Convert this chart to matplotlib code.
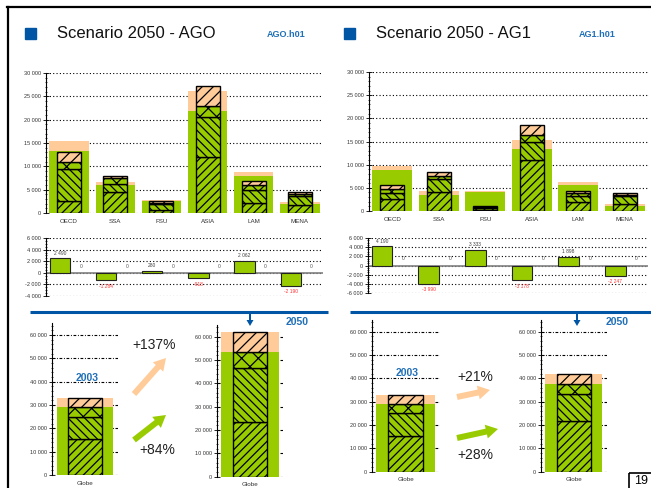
import matplotlib
matplotlib.use("Agg")
import matplotlib.pyplot as plt
import numpy as np
from matplotlib.patches import FancyArrow, Rectangle
from matplotlib.ticker import MultipleLocator, FuncFormatter

plt.rcParams["font.family"] = ["Liberation Sans", "DejaVu Sans"]
plt.rcParams["hatch.linewidth"] = 0.9

GREEN = "#99CC00"
PEACH = "#FFCC99"
BLUE = "#0055A5"
TXTBLUE = "#1F6FB8"
W, H = 651, 488

regions = ["OECD", "SSA", "FSU", "ASIA", "LAM", "MENA"]

# scenario AGO 2050 - wide bars (green part and total)
ago_green = [13300, 6000, 2550, 21900, 8000, 2000]
ago_total = [15500, 6650, 2850, 26200, 8800, 2400]
# narrow stacked bars, four layers
ago_seg1 = [2500, 4400, 600, 12100, 2100, 1800]
ago_seg2 = [6900, 1800, 1300, 8500, 2800, 1800]
ago_seg3 = [1500, 1300, 300, 2300, 1000, 550]
ago_seg4 = [2100, 500, 400, 4300, 900, 450]
ago_diff = [2490, -1284, 280, -918, 2062, -2190]

# scenario AG1 2050
ag1_green = [8900, 3500, 4150, 13400, 5600, 1150]
ag1_total = [9800, 4300, 4250, 15300, 6300, 1600]
ag1_seg1 = [2650, 4100, 300, 10900, 2000, 1450]
ag1_seg2 = [1150, 2900, 400, 3900, 1200, 1700]
ag1_seg3 = [900, 500, 150, 1700, 650, 300]
ag1_seg4 = [900, 850, 150, 2000, 500, 400]
ag1_diff = [4190, -3990, 3333, -3178, 1898, -2247]

# globe totals
globe2003_green, globe2003_total = 29200, 33000
globe2003_segs = [15300, 9700, 4200, 3800]
ago2050_green, ago2050_total = 53500, 62100
ago2050_segs = [23600, 22900, 7000, 8600]
ag1_2050_green, ag1_2050_total = 37600, 41900
ag1_2050_segs = [21900, 11400, 4300, 4300]

hatches = ["////", "\\\\\\\\", "xx", "///"]
seg_colors = [GREEN, GREEN, GREEN, PEACH]


def px_axes(fig, x0, y_top, x1, y_bot):
    return fig.add_axes([x0 / W, 1 - y_bot / H, (x1 - x0) / W, (y_bot - y_top) / H])


def fmt(v, pos=None):
    s = f"{abs(int(round(v))):,}".replace(",", " ")
    return "-" + s if v < 0 else s


def style_axis(ax, major, minor, ls=(0, (1, 2))):
    for s in ["top", "right", "bottom"]:
        ax.spines[s].set_visible(False)
    ax.spines["left"].set_linewidth(0.8)
    ax.yaxis.set_major_locator(MultipleLocator(major))
    ax.yaxis.set_minor_locator(MultipleLocator(minor))
    ax.yaxis.set_major_formatter(FuncFormatter(fmt))
    ax.tick_params(axis="y", which="major", direction="inout", length=4, width=0.6,
                   labelsize=4, pad=1.5, labelcolor="#333333")
    ax.tick_params(axis="y", which="minor", direction="inout", length=2, width=0.5)
    ax.tick_params(axis="x", length=0, labelsize=4.5, labelcolor="#333333")
    ax.grid(axis="y", which="major", color="black", linestyle=ls, linewidth=0.8)
    ax.set_axisbelow(True)
    ax.set_facecolor("none")


def stacked(ax, x, layers, width):
    bottom = np.zeros(len(np.atleast_1d(x)))
    for h, hatch, c in zip(layers, hatches, seg_colors):
        h = np.atleast_1d(h)
        ax.bar(x, h, width, bottom=bottom, color=c, edgecolor="black",
               hatch=hatch, linewidth=1)
        bottom = bottom + h


def region_chart(ax, green, total, layers):
    x = np.arange(len(regions))
    ax.bar(x, green, 0.85, color=GREEN, linewidth=0)
    ax.bar(x, np.array(total) - np.array(green), 0.85, bottom=green, color=PEACH, linewidth=0)
    stacked(ax, x, layers, 0.52)
    ax.set_xlim(-0.5, len(regions) - 0.5)
    ax.set_ylim(0, 30000)
    style_axis(ax, 5000, 1000)
    ax.set_xticks(x)
    ax.set_xticklabels(regions)
    ax.tick_params(axis="x", pad=4)


def diff_chart(ax, diff, ylim):
    x = np.arange(len(regions))
    ax.bar(x - 0.2, diff, 0.44, color=GREEN, edgecolor="#222222", linewidth=0.8, zorder=3)
    ax.axhline(0, color="#808080", linewidth=1.2, zorder=2)
    for xi, v in zip(x, diff):
        if v >= 0:
            ax.annotate(fmt(v), (xi - 0.2, v), xytext=(0, 2), textcoords="offset points",
                        ha="center", va="bottom", fontsize=3.5, color="#404040")
        else:
            ax.annotate(fmt(v), (xi - 0.2, v), xytext=(0, -2.5), textcoords="offset points",
                        ha="center", va="top", fontsize=3.5, color="#FF3333")
        ax.annotate("0", (xi + 0.25, 0), xytext=(0, 3), textcoords="offset points",
                    ha="center", va="bottom", fontsize=3.5, color="#555555")
    ax.set_xlim(-0.5, len(regions) - 0.5)
    ax.set_ylim(*ylim)
    style_axis(ax, 2000, 500)
    ax.set_xticks([])


def globe_chart(ax, green, total, segs):
    ax.bar(0, green, 0.86, color=GREEN, linewidth=0)
    ax.bar(0, total - green, 0.86, bottom=green, color=PEACH, linewidth=0)
    stacked(ax, 0, segs, 0.52)
    ax.set_xlim(-0.5, 0.5)
    ax.set_ylim(0, 65000)
    style_axis(ax, 10000, 2000, ls=(0, (2.5, 1.5, 0.8, 1.5)))
    ax.set_xticks([0])
    ax.set_xticklabels(["Globe"])
    ax.tick_params(axis="x", pad=4)


fig = plt.figure(figsize=(W / 100, H / 100), dpi=100)

# overlay for decorations, in pixel coordinates
ov = fig.add_axes([0, 0, 1, 1])
ov.set_xlim(0, W)
ov.set_ylim(H, 0)
ov.axis("off")

ov.plot([7, W], [7, 7], color="black", lw=1.6)
ov.plot([7.5, 7.5], [7, H], color="black", lw=1.6)

for x0, title, code, cx in [(25, "Scenario 2050 - AGO", "AGO.h01", 267),
                            (344, "Scenario 2050 - AG1", "AG1.h01", 579)]:
    ov.add_patch(Rectangle((x0, 28), 11, 11, color=BLUE))
    ov.text(x0 + 32, 34, title, fontsize=12, va="center", ha="left", color="#111111")
    ov.text(cx, 34.5, code, fontsize=6.5, fontweight="bold", va="center", ha="left", color=TXTBLUE)

# blue separators with arrows
ov.plot([30, 328], [311.5, 311.5], color=BLUE, lw=2.2, solid_capstyle="butt")
ov.plot([350, W], [311.5, 311.5], color=BLUE, lw=2.2, solid_capstyle="butt")
for ax_x, tx in [(250, 297), (577, 617)]:
    ov.add_patch(FancyArrow(ax_x, 311, 0, 15, width=2, head_width=7, head_length=6,
                            length_includes_head=True, color=BLUE, lw=0))
    ov.text(tx, 322, "2050", fontsize=7.5, fontweight="bold", color=TXTBLUE, ha="center", va="center")

ov.text(87, 378, "2003", fontsize=7.5, fontweight="bold", color=TXTBLUE, ha="center", va="center")
ov.text(407, 373, "2003", fontsize=7.5, fontweight="bold", color=TXTBLUE, ha="center", va="center")

# growth arrows
for (x, y, x2, y2, c) in [(134, 394, 166, 358, PEACH), (134, 440, 166, 415, GREEN),
                          (457, 397, 490, 390, PEACH), (457, 438, 498, 429, GREEN)]:
    ov.add_patch(FancyArrow(x, y, x2 - x, y2 - y, width=6, head_width=14, head_length=12,
                            length_includes_head=True, color=c, lw=0))
ov.text(154, 345, "+137%", fontsize=10, ha="center", va="center", color="#222222")
ov.text(157, 450, "+84%", fontsize=10, ha="center", va="center", color="#222222")
ov.text(475, 377, "+21%", fontsize=10, ha="center", va="center", color="#222222")
ov.text(475, 455, "+28%", fontsize=10, ha="center", va="center", color="#222222")

# page number
ov.add_patch(Rectangle((629, 472.5), 24, 17, fill=False, edgecolor="black", lw=1.2))
ov.text(641, 481.5, "19", fontsize=9, ha="center", va="center")

# top regional charts
ax1 = px_axes(fig, 46, 73, 323, 213)
region_chart(ax1, ago_green, ago_total, [ago_seg1, ago_seg2, ago_seg3, ago_seg4])
ax2 = px_axes(fig, 369, 72, 648, 211)
region_chart(ax2, ag1_green, ag1_total, [ag1_seg1, ag1_seg2, ag1_seg3, ag1_seg4])

# difference charts
ax3 = px_axes(fig, 46, 238, 323, 296)
diff_chart(ax3, ago_diff, (-4000, 6000))
ax4 = px_axes(fig, 368, 238, 648, 293)
diff_chart(ax4, ag1_diff, (-6000, 6000))

# globe charts
ax5 = px_axes(fig, 52, 323.3, 118, 475)
globe_chart(ax5, globe2003_green, globe2003_total, globe2003_segs)
ax6 = px_axes(fig, 216.7, 325, 283.3, 476.7)
globe_chart(ax6, ago2050_green, ago2050_total, ago2050_segs)
ax7 = px_axes(fig, 371.7, 320.1, 439.7, 471.7)
globe_chart(ax7, globe2003_green, globe2003_total, globe2003_segs)
ax8 = px_axes(fig, 540.7, 320.1, 606.7, 471.7)
globe_chart(ax8, ag1_2050_green, ag1_2050_total, ag1_2050_segs)

fig.savefig("out.png", dpi=100)
